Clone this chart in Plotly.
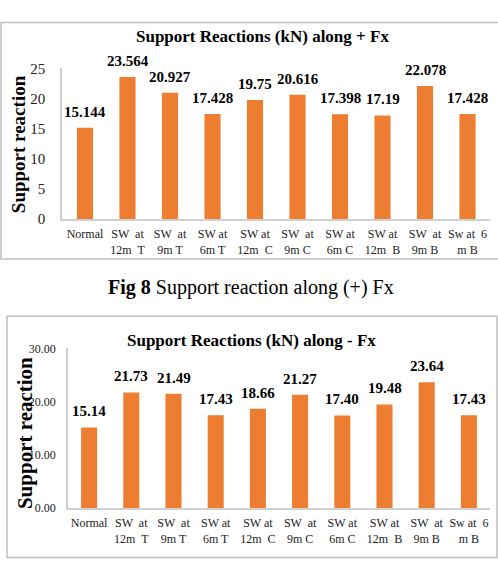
import plotly.graph_objects as go

categories = ["Normal", "SW  at<br>12m  T", "SW  at<br>9m T", "SW at<br>6m T",
              "SW at<br>12m  C", "SW  at<br>9m C", "SW at<br>6m C", "SW at<br>12m  B",
              "SW  at<br>9m B", "Sw at  6<br>m B"]
plus_fx = [15.144, 23.564, 20.927, 17.428, 19.75, 20.616, 17.398, 17.19, 22.078, 17.428]
plus_labels = ["15.144", "23.564", "20.927", "17.428", "19.75", "20.616", "17.398", "17.19", "22.078", "17.428"]
minus_fx = [15.14, 21.73, 21.49, 17.43, 18.66, 21.27, 17.40, 19.48, 23.64, 17.43]
minus_labels = ["%.2f" % v for v in minus_fx]

W, H = 498, 586
ORANGE = "#ED7D31"
SERIF = "Liberation Serif"
GRAY = "#bfbfbf"

def px(x):
    return x / W

def py(y):
    return 1 - y / H

fig = go.Figure()
fig.add_trace(go.Bar(x=categories, y=plus_fx, marker=dict(color=ORANGE, line=dict(width=0)),
                     xaxis="x", yaxis="y", hoverinfo="skip"))
fig.add_trace(go.Bar(x=categories, y=minus_fx, marker=dict(color=ORANGE, line=dict(width=0)),
                     xaxis="x2", yaxis="y2", hoverinfo="skip"))

annotations = []
for c, v, t in zip(categories, plus_fx, plus_labels):
    annotations.append(dict(x=c, y=v, xref="x", yref="y", text="<b>%s</b>" % t, showarrow=False,
                            xanchor="center", yanchor="middle", yshift=16,
                            font=dict(family=SERIF, size=15, color="#000")))
for c, v, t in zip(categories, minus_fx, minus_labels):
    annotations.append(dict(x=c, y=v, xref="x2", yref="y2", text="<b>%s</b>" % t, showarrow=False,
                            xanchor="center", yanchor="middle", yshift=16,
                            font=dict(family=SERIF, size=15, color="#000")))

def pa(x, y, text, size, family=SERIF, angle=0, yanchor="middle", yshift=0):
    return dict(x=px(x), y=py(y), xref="paper", yref="paper", showarrow=False, text=text,
                textangle=angle, xanchor="center", yanchor=yanchor, yshift=yshift,
                font=dict(family=family, size=size, color="#000"))

# titles
annotations.append(pa(262, 29, "<b>Support Reactions (kN) along + Fx</b>", 17))
annotations.append(pa(252, 342, "<b>Support Reactions (kN) along - Fx</b>", 17))
# y titles
annotations.append(pa(18, 140, "<b>Support reaction</b>", 19, angle=-90))
annotations.append(pa(25, 437, "<b>Support reaction</b>", 21, angle=-90))
# captions
annotations.append(pa(251, 287, "<b>Fig 8</b> Support reaction along (+) Fx", 20))
annotations.append(pa(251, 586, "<b>Fig 9</b> Support reaction along (-) Fx", 20, yanchor="top", yshift=-5))

shapes = [
    dict(type="rect", xref="paper", yref="paper", x0=px(1), x1=px(505), y0=py(258), y1=py(15),
         line=dict(color=GRAY, width=1.5)),
    dict(type="rect", xref="paper", yref="paper", x0=px(7), x1=px(497), y0=py(565), y1=py(317),
         line=dict(color=GRAY, width=1.5)),
]

fig.update_layout(
    width=W, height=H, margin=dict(l=0, r=0, t=0, b=0),
    paper_bgcolor="white", plot_bgcolor="white", showlegend=False,
    bargap=0.62,
    annotations=annotations, shapes=shapes,
    xaxis=dict(domain=[px(62), px(490)], showline=True, linecolor="#d0d0d0", linewidth=1.5,
               showgrid=False, ticks="", tickfont=dict(family=SERIF, size=12, color="#222"),
               tickangle=0, anchor="y", fixedrange=True, ticklabelstandoff=3),
    yaxis=dict(domain=[py(217), py(62)], range=[0, 25], dtick=5, showline=True, linecolor="#d0d0d0",
               linewidth=1.5, showgrid=False, zeroline=False, ticks="",
               tickfont=dict(family=SERIF, size=15, color="#222"), anchor="x", fixedrange=True,
               ticklabelstandoff=12),
    xaxis2=dict(domain=[px(68), px(490)], showline=True, linecolor="#d0d0d0", linewidth=1.5,
                showgrid=False, ticks="", tickfont=dict(family=SERIF, size=12, color="#222"),
                tickangle=0, anchor="y2", fixedrange=True, ticklabelstandoff=3),
    yaxis2=dict(domain=[py(514), py(350)], range=[0, 30], dtick=10, tickformat=".2f", showline=True,
                linecolor="#d0d0d0", linewidth=1.5, showgrid=False, zeroline=False, ticks="",
                tickfont=dict(family=SERIF, size=12, color="#222"), anchor="x2", fixedrange=True,
                ticklabelstandoff=8),
)

fig.write_html("out.html")
